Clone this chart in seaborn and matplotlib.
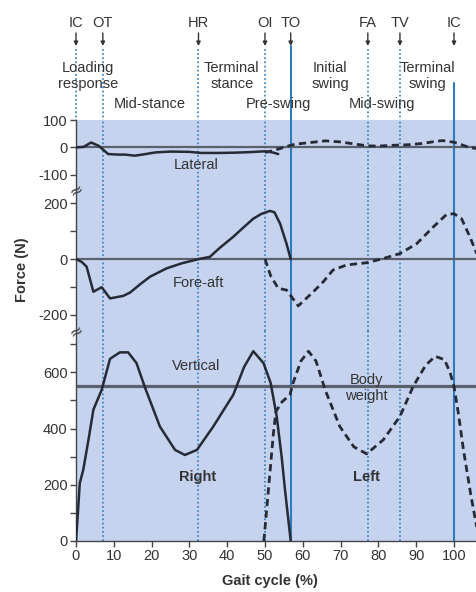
import matplotlib
matplotlib.use("Agg")
import matplotlib.pyplot as plt
import matplotlib.transforms as mtransforms
import seaborn as sns
import pandas as pd

# ---------------- data ----------------
lat_r_x = [0, 2, 4, 6, 8.5, 11, 13, 15.5, 18, 21, 25, 30, 33, 38, 42, 46, 50, 52, 53.5]
lat_r_y = [0, 2, 18, 6, -24, -26, -26, -30, -25, -18, -15, -16, -20, -20, -19, -17, -14, -18, -24]
lat_l_x = [50, 52, 54, 56, 58, 62, 66, 70, 74, 77, 80, 84, 88, 92, 95, 97, 100, 102, 104, 106]
lat_l_y = [-18, -12, -4, 5, 12, 18, 24, 20, 12, 6, 5, 8, 10, 15, 22, 25, 19, 10, 0, -4]

fa_r_x = [0, 1.5, 2.8, 4.6, 6.8, 9, 12.5, 14.3, 17, 19.6, 24, 28, 32.4, 35.4, 38, 41.6, 44, 46.9, 49, 51.3, 52.5, 54, 55.7, 56.8]
fa_r_y = [0, -10, -27, -117, -101, -141, -132, -120, -90, -63, -33, -15, 0, 8, 40, 80, 110, 145, 162, 173, 168, 127, 55, 0]
fa_l_x = [50, 51.5, 53.5, 55.7, 58.8, 62.8, 65.5, 68, 71.6, 76.9, 81.3, 85.7, 90.1, 94.5, 98, 100, 102, 104.2, 106]
fa_l_y = [0, -60, -105, -111, -168, -117, -80, -39, -21, -13, 2, 20, 55, 115, 160, 163, 145, 80, 20]

v_r_x = [0, 0.5, 1, 1.9, 3.3, 4.6, 6.8, 9.0, 11.6, 13.8, 16, 18.3, 22.2, 26.2, 28.8, 32, 36.3, 41.6, 44.5, 46.9, 49.6, 51.5, 53.1, 54.4, 55.3, 56.8]
v_r_y = [0, 100, 206, 252, 360, 467, 538, 648, 671, 671, 633, 544, 407, 324, 306, 324, 407, 520, 620, 675, 633, 562, 443, 300, 181, 0]
v_l_x = [49.7, 50.5, 51.3, 52.2, 52.9, 54.5, 56.6, 57.5, 59.5, 61.5, 63.5, 65.9, 69.8, 73.5, 76.9, 81.3, 85.7, 89.2, 92.5, 95, 97.5, 99, 100, 101.2, 102.5, 104.5, 106]
v_l_y = [0, 120, 242, 380, 461, 495, 520, 565, 640, 675, 640, 538, 407, 335, 310, 360, 443, 550, 625, 657, 645, 598, 550, 450, 324, 160, 50]

body_weight = 550

event_names = ["IC", "OT", "HR", "OI", "TO", "FA", "TV", "IC"]
event_x = [0, 7.1, 32.4, 50, 56.8, 77.2, 85.7, 100]
event_solid = [False, False, False, False, True, False, False, True]

phase_names = ["Loading\nresponse", "Mid-stance", "Terminal\nstance", "Pre-swing",
               "Initial\nswing", "Mid-swing", "Terminal\nswing"]
phase_x = [3.2, 19.4, 41.2, 53.5, 67.2, 80.9, 92.9]
phase_row = [0, 1, 0, 1, 0, 1, 0]

x_ticks = list(range(0, 101, 10))
lat_ticks = [-100, 0, 100]
fa_ticks = [-200, 0, 200]
fa_minor = [-100, 100]
v_ticks = [0, 200, 400, 600]
v_minor = [100, 300, 500, 700]

# ---------------- style ----------------
sns.set_style("ticks")
plt.rcParams['font.family'] = ['Liberation Sans', 'DejaVu Sans']
plt.rcParams['axes.unicode_minus'] = False

BG = '#c6d3ee'
CURVE = '#262a36'
ZERO = '#5a606c'
BLUE = '#2f7bc0'
TXT = '#333333'
FS = 10.5

W, H = 477, 592
fig = plt.figure(figsize=(W / 100, H / 100), dpi=100)

def fy(px):
    return 1 - px / H

left = 76 / W
width = 1 - left
ax_lat = fig.add_axes([left, fy(190), width, fy(120) - fy(190)])
ax_fa = fig.add_axes([left, fy(331), width, fy(190) - fy(331)])
ax_v = fig.add_axes([left, fy(541), width, fy(331) - fy(541)])

xmax = (W - 76) / 3.78
ax_lat.set_ylim(-155, 100)
ax_fa.set_ylim(-258, 248)
ax_v.set_ylim(0, 747)

for ax in (ax_lat, ax_fa, ax_v):
    ax.set_facecolor(BG)
    ax.set_xlim(0, xmax)
    for s in ('top', 'right', 'bottom'):
        ax.spines[s].set_visible(False)
    ax.spines['left'].set_color('#444444')
    ax.spines['left'].set_linewidth(1.0)
    ax.tick_params(axis='y', which='both', length=4, width=1, color='#444444',
                   labelsize=FS, labelcolor=TXT, pad=2)
    # event lines
    for ex, solid in zip(event_x, event_solid):
        if solid:
            ax.axvline(ex, color=BLUE, lw=1.5, zorder=1)
        else:
            ax.axvline(ex, color=BLUE, lw=1.2, ls=(0, (1, 1.5)), zorder=1)

ax_v.spines['bottom'].set_visible(True)
ax_v.spines['bottom'].set_color('#444444')
ax_v.spines['bottom'].set_linewidth(1.0)
ax_lat.set_xticks([])
ax_fa.set_xticks([])
ax_v.set_xticks(x_ticks)
ax_v.tick_params(axis='x', length=4, width=1, color='#444444', labelsize=FS,
                 labelcolor=TXT, pad=2)

ax_lat.set_yticks(lat_ticks)
ax_fa.set_yticks(fa_ticks)
ax_fa.set_yticks(fa_minor, minor=True)
ax_v.set_yticks(v_ticks)
ax_v.set_yticks(v_minor, minor=True)

# horizontal reference lines
ax_lat.axhline(0, color=ZERO, lw=1.6, zorder=2)
ax_fa.axhline(0, color=ZERO, lw=1.6, zorder=2)
ax_v.axhline(body_weight, color=ZERO, lw=2.3, zorder=2)

# curves
dash = (0, (2.6, 1.6))
def draw(ax, xs, ys, dashed):
    df = pd.DataFrame({'x': xs, 'y': ys})
    sns.lineplot(data=df, x='x', y='y', ax=ax, color=CURVE, lw=1.8 if not dashed else 2.0,
                 sort=False, estimator=None, zorder=3,
                 linestyle=dash if dashed else '-')
    ax.set_xlabel('')
    ax.set_ylabel('')

draw(ax_lat, lat_r_x, lat_r_y, False)
draw(ax_lat, lat_l_x, lat_l_y, True)
draw(ax_fa, fa_r_x, fa_r_y, False)
draw(ax_fa, fa_l_x, fa_l_y, True)
draw(ax_v, v_r_x, v_r_y, False)
draw(ax_v, v_l_x, v_l_y, True)
for ax in (ax_lat, ax_fa, ax_v):
    ax.set_xlim(0, xmax)

# curve labels
ax_lat.text(31.7, -65, "Lateral", ha='center', va='center', fontsize=FS, color=TXT)
ax_fa.text(32.5, -87, "Fore-aft", ha='center', va='center', fontsize=FS, color=TXT)
ax_v.text(31.9, 622, "Vertical", ha='center', va='center', fontsize=FS, color=TXT)
ax_v.text(76.9, 544, "Body\nweight", ha='center', va='center', fontsize=FS, color=TXT,
          linespacing=1.15)
ax_v.text(32.2, 228, "Right", ha='center', va='center', fontsize=FS, color=TXT,
          fontweight='bold')
ax_v.text(76.9, 228, "Left", ha='center', va='center', fontsize=FS, color=TXT,
          fontweight='bold')

# top annotations (x in data, y in figure)
tr = mtransforms.blended_transform_factory(ax_lat.transData, fig.transFigure)
for name, ex, solid in zip(event_names, event_x, event_solid):
    ax_lat.text(ex, fy(23), name, transform=tr, ha='center', va='center',
                fontsize=FS, color=TXT, clip_on=False)
    ax_lat.annotate('', xy=(ex, fy(46)), xytext=(ex, fy(33)), xycoords=tr,
                    textcoords=tr,
                    arrowprops=dict(arrowstyle='-|>', color='#333333', lw=1.0,
                                    mutation_scale=6, shrinkA=0, shrinkB=0),
                    annotation_clip=False)
    if solid:
        top = 46 if name == "TO" else 83
        ax_lat.plot([ex, ex], [fy(top), fy(120)], transform=tr, color=BLUE, lw=1.5,
                    clip_on=False, zorder=1)
    else:
        ax_lat.plot([ex, ex], [fy(49), fy(120)], transform=tr, color=BLUE, lw=1.2,
                    ls=(0, (1, 1.5)), clip_on=False, zorder=1)

for name, px, row in zip(phase_names, phase_x, phase_row):
    ypix = 76 if row == 0 else 104
    ax_lat.text(px, fy(ypix), name, transform=tr, ha='center', va='center',
                fontsize=FS, color=TXT, linespacing=1.15, clip_on=False, zorder=5)

# axis break markers
for ypix in (190, 331):
    fig.text(left, fy(ypix), "≈", ha='center', va='center', fontsize=12,
             color='#444444', rotation=30, family=['DejaVu Sans'])

# axis titles
fig.text(22 / W, fy(270), "Force (N)", rotation=90, ha='center', va='center',
         fontsize=FS, fontweight='bold', color=TXT)
fig.text(270 / W, fy(581), "Gait cycle (%)", ha='center', va='center',
         fontsize=FS, fontweight='bold', color=TXT)

fig.savefig("out.png", dpi=100, facecolor='white')
